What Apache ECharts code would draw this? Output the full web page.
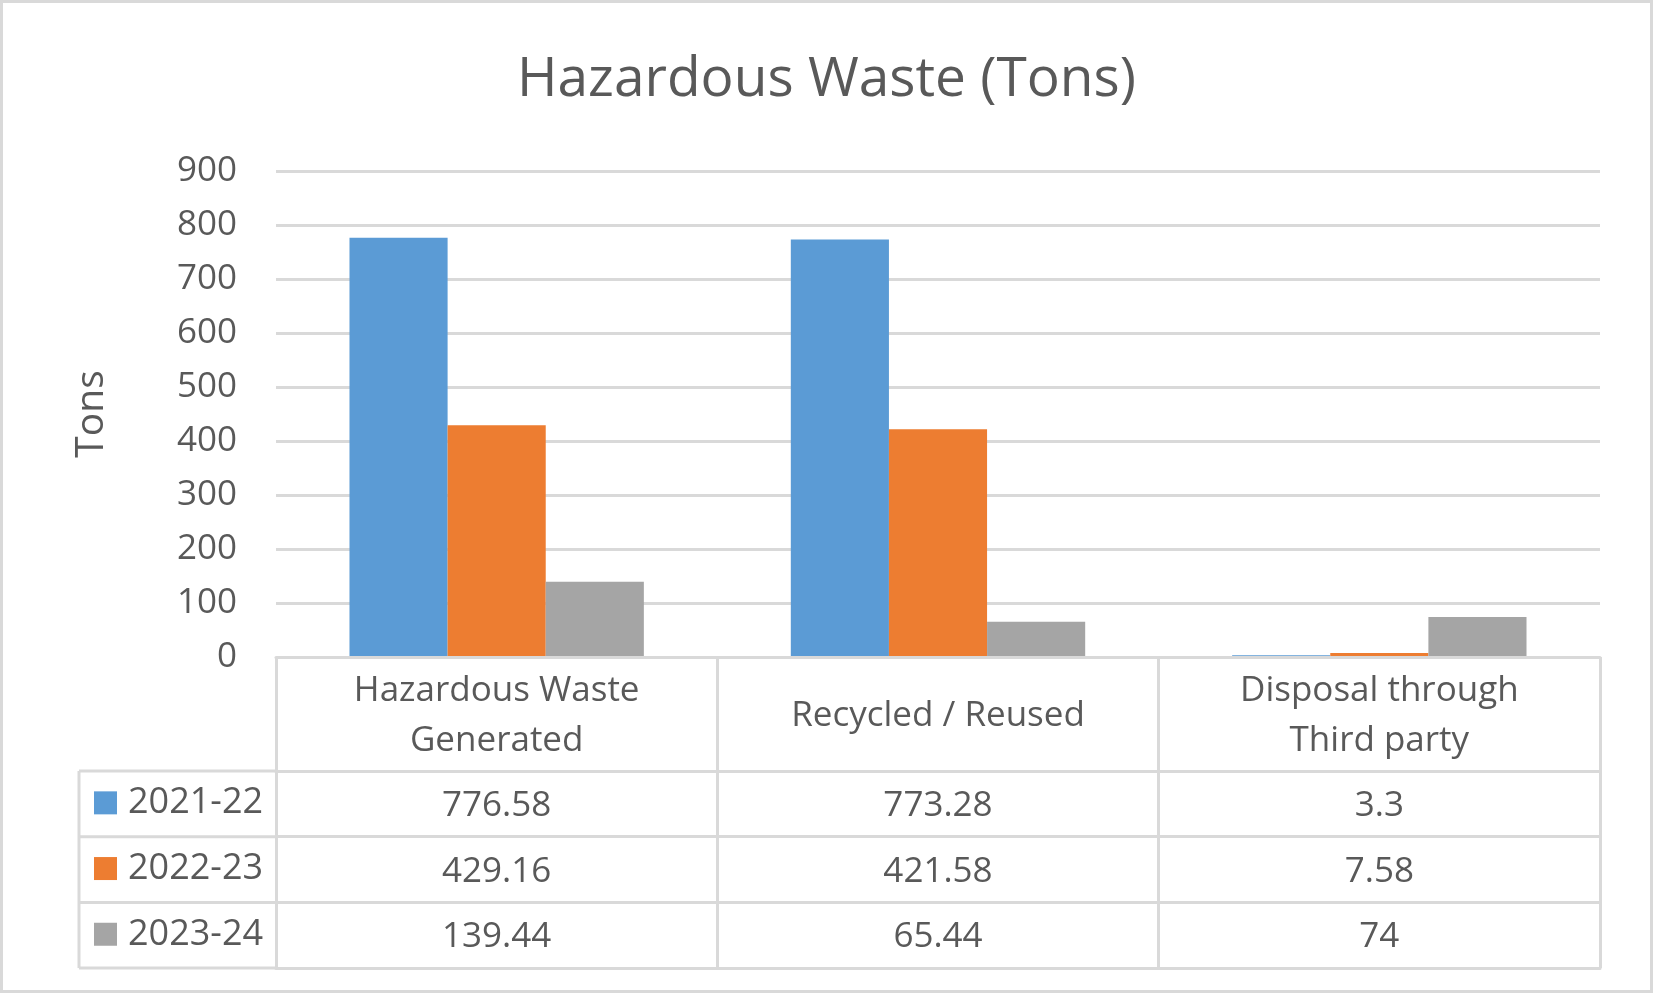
<!DOCTYPE html>
<html>
<head>
<meta charset="utf-8">
<script src="https://cdn.jsdelivr.net/npm/echarts@6/dist/echarts.min.js"></script>
<style>
html,body{margin:0;padding:0;background:#fff;}
#chart{width:1653px;height:993px;}
</style>
</head>
<body>
<div id="chart"></div>
<script>
// ---- data ----
const categories = ['Hazardous Waste\nGenerated', 'Recycled / Reused', 'Disposal through\nThird party'];
const seriesNames = ['2021-22', '2022-23', '2023-24'];
const values2021 = [776.58, 773.28, 3.3];
const values2022 = [429.16, 421.58, 7.58];
const values2023 = [139.44, 65.44, 74];
const yMin = 0, yMax = 900, yInterval = 100;
const titleText = 'Hazardous Waste (Tons)';
const yAxisName = 'Tons';

// ---- style / layout ----
const FONT = 'Open Sans';
const TEXT = '#595959';
const LINE = '#d9d9d9';
const COLORS = ['#5B9BD5', '#ED7D31', '#A5A5A5'];
const W = 1653, H = 993;
const GRID_L = 276, GRID_R = 53, GRID_T = 171, AXIS_Y = 657;
const HEADER_H = 114, ROW_H = 65.7;
const TABLE_LEFT = 79;
const LW = 3;

const allValues = [values2021, values2022, values2023];
const rowTop = i => HEADER_H + ROW_H * i;   // offset below axis
const tableBottomOff = HEADER_H + ROW_H * 3;

const chart = echarts.init(document.getElementById('chart'), null, {renderer: 'canvas'});

const xAxes = [{
  type: 'category',
  data: categories,
  gridIndex: 0,
  position: 'bottom',
  z: 3,
  axisLine: {show: true, lineStyle: {color: LINE, width: LW}},
  axisTick: {show: true, length: tableBottomOff, lineStyle: {color: LINE, width: LW}},
  axisLabel: {
    interval: 0, margin: HEADER_H / 2 + 2, verticalAlign: 'middle',
    fontFamily: FONT, fontSize: 35, color: TEXT, lineHeight: 50, align: 'center'
  }
}];
allValues.forEach((vals, k) => {
  xAxes.push({
    type: 'category',
    data: categories,
    gridIndex: 0,
    position: 'bottom',
    offset: rowTop(k),
    axisLine: {show: true, lineStyle: {color: LINE, width: LW}},
    axisTick: {show: false},
    axisLabel: {
      interval: 0, margin: ROW_H / 2 + 2, verticalAlign: 'middle',
      fontFamily: FONT, fontSize: 35, color: TEXT,
      formatter: (v, idx) => String(vals[idx])
    }
  });
});
xAxes.push({
  type: 'category', data: categories, gridIndex: 0, position: 'bottom',
  offset: tableBottomOff,
  axisLine: {show: true, lineStyle: {color: LINE, width: LW}},
  axisTick: {show: false}, axisLabel: {show: false}
});

const decorations = [];
for (let k = 0; k <= 3; k++) {
  const y = AXIS_Y + rowTop(k);
  decorations.push({type: 'line', silent: true,
    shape: {x1: TABLE_LEFT, y1: y, x2: GRID_L, y2: y},
    style: {stroke: LINE, lineWidth: LW}});
}
decorations.push({type: 'line', silent: true,
  shape: {x1: TABLE_LEFT, y1: AXIS_Y + rowTop(0), x2: TABLE_LEFT, y2: AXIS_Y + tableBottomOff},
  style: {stroke: LINE, lineWidth: LW}});
decorations.push({type: 'rect', silent: true, z: -1,
  shape: {x: 1.5, y: 1.5, width: W - 3, height: H - 3},
  style: {fill: null, stroke: LINE, lineWidth: LW}});

const option = {
  animation: false,
  backgroundColor: '#fff',
  color: COLORS,
  title: {
    text: titleText, left: 'center', top: 48,
    textStyle: {fontFamily: FONT, fontSize: 55, fontWeight: 'normal', color: TEXT}
  },
  legend: {
    data: seriesNames, orient: 'vertical', left: 94, top: AXIS_Y + rowTop(0) + ROW_H / 2 - 28,
    padding: 0,
    icon: 'rect', itemWidth: 23, itemHeight: 23, itemGap: ROW_H - 54,
    textStyle: {fontFamily: FONT, fontSize: 36, color: TEXT, lineHeight: 44, padding: [10, 0, 0, 6]},
    selectedMode: false
  },
  grid: {left: GRID_L, right: GRID_R, top: GRID_T, bottom: H - AXIS_Y, containLabel: false},
  xAxis: xAxes,
  yAxis: {
    type: 'value', min: yMin, max: yMax, interval: yInterval,
    name: yAxisName, nameLocation: 'middle', nameRotate: 90, nameGap: 165,
    nameTextStyle: {fontFamily: FONT, fontSize: 39, color: TEXT},
    axisLine: {show: false}, axisTick: {show: false},
    axisLabel: {margin: 39, fontFamily: FONT, fontSize: 35, color: TEXT},
    splitLine: {lineStyle: {color: LINE, width: LW}}
  },
  series: seriesNames.map((name, k) => ({
    name: name, type: 'bar', xAxisIndex: 0, data: allValues[k],
    barGap: '0%', barCategoryGap: '33.3%'
  })),
  graphic: decorations
};
chart.setOption(option);
</script>
</body>
</html>
